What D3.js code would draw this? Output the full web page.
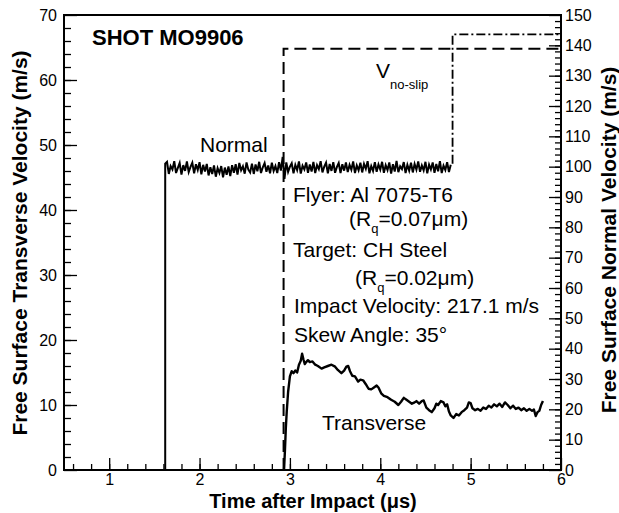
<!DOCTYPE html>
<html>
<head>
<meta charset="utf-8">
<title>Shot MO9906</title>
<style>
  body { margin: 0; background: #fff; }
  svg text { font-family: "Liberation Sans", Arial, Helvetica, sans-serif; fill: #000; }
  .tick text { font-size: 16px; }
  .tick line { stroke: #000; stroke-width: 1.3; }
</style>
</head>
<body>
<div id="chart"></div>
<script src="https://d3js.org/d3.v7.min.js"></script>
<script>
// tick labels
const xTicks = [1, 2, 3, 4, 5, 6];
const leftTicks = [0, 10, 20, 30, 40, 50, 60, 70];
const rightTicks = [0, 10, 20, 30, 40, 50, 60, 70, 80, 90, 100, 110, 120, 130, 140, 150];

// normal free surface velocity (right axis, m/s), sampled every 0.02 us from 1.64 us
const normalRise = [[1.62, 0], [1.62, 101.0], [1.64, 101.6]];
const normalStart = 1.64, normalStep = 0.02;
const normalValues = [
  101.6, 97.6, 100.2, 99.1, 101.8, 97.9, 99.6, 101.2, 97.4, 100.5, 98.6, 101.7, 98.2, 99.9, 101.3, 97.8, 100.8, 98.9, 101.5, 97.5,
  100.6, 98.4, 100.9, 97.1, 99.8, 97.6, 100.4, 96.7, 99.5, 97.9, 100.2, 96.5, 99.7, 97.3, 100.1, 96.9, 100.5, 98.0, 100.8, 97.4,
  101.2, 98.8, 100.1, 97.7, 101.4, 99.0, 98.1, 101.0, 97.6, 100.7, 98.5, 101.6, 97.9, 99.8, 101.2, 98.3, 100.4, 97.8, 101.3, 98.6,
  100.2, 97.9, 101.5, 98.7, 103.2, 96.0, 101.4, 98.3, 100.0, 101.1, 97.8, 100.6, 98.9, 101.7, 97.7, 100.3, 99.1, 101.4, 98.0, 100.7,
  98.4, 101.6, 97.9, 100.5, 99.2, 101.8, 98.1, 100.0, 101.3, 97.8, 100.9, 98.6, 101.5, 98.0, 99.9, 101.2, 97.9, 100.8, 98.7, 101.4,
  98.2, 100.6, 99.0, 101.7, 97.9, 100.4, 98.8, 101.3, 98.1, 100.9, 99.3, 101.8, 97.8, 100.2, 98.6, 101.5, 98.3, 100.7, 99.0, 101.6,
  98.0, 100.5, 98.9, 101.4, 97.7, 100.8, 98.4, 101.9, 98.2, 100.1, 99.2, 101.5, 97.9, 100.6, 98.7, 101.3, 98.1, 100.9, 99.0, 101.7,
  98.3, 100.4, 98.8, 101.6, 97.8, 100.7, 99.1, 101.4, 98.0, 100.9, 98.5, 101.8, 97.9, 100.3, 98.9, 101.5, 98.2, 100.6
];

// transverse free surface velocity (left axis, m/s)
const transT = [2.935, 2.945, 2.955, 2.965, 2.98, 3.0, 3.02, 3.04, 3.06, 3.08, 3.10, 3.12, 3.135, 3.15, 3.165, 3.18, 3.20, 3.22, 3.25, 3.28,
  3.31, 3.35, 3.38, 3.42, 3.46, 3.50, 3.53, 3.57, 3.60, 3.625, 3.645, 3.665, 3.69, 3.72, 3.755, 3.78, 3.81, 3.84, 3.87, 3.90,
  3.93, 3.96, 3.98, 4.01, 4.04, 4.08, 4.12, 4.16, 4.20, 4.23, 4.26, 4.29, 4.32, 4.35, 4.38, 4.40, 4.43, 4.46, 4.48, 4.51,
  4.54, 4.57, 4.60, 4.62, 4.64, 4.67, 4.70, 4.72, 4.74, 4.76, 4.78, 4.81, 4.84, 4.87, 4.90, 4.93, 4.96, 4.98, 5.00, 5.02,
  5.05, 5.08, 5.11, 5.14, 5.17, 5.20, 5.23, 5.26, 5.29, 5.32, 5.35, 5.38, 5.41, 5.44, 5.47, 5.50, 5.53, 5.56, 5.59, 5.62,
  5.65, 5.68, 5.70, 5.72, 5.74, 5.76, 5.78, 5.80];
const transV = [0, 3, 6.5, 9, 12, 14.4, 15.2, 14.9, 15.3, 15.0, 16.2, 16.8, 17.9, 17.0, 16.3, 16.6, 16.9, 16.6, 16.7, 16.2,
  16.0, 15.6, 15.8, 16.0, 16.2, 15.9, 15.4, 14.9, 15.3, 15.9, 16.0, 15.2, 14.5, 14.4, 13.6, 13.9, 13.8, 13.2, 12.5, 12.4,
  12.7, 13.0, 12.7, 11.8, 11.4, 11.2, 10.8, 10.5, 10.0, 10.5, 11.1, 10.8, 10.5, 10.2, 10.4, 10.6, 10.2, 10.6, 10.7, 9.6,
  9.2, 8.9, 9.5, 10.2, 10.0, 10.6, 10.4, 9.8, 10.1, 9.0, 8.4, 8.0, 8.6, 8.4, 8.9, 9.2, 9.6, 10.4, 10.3, 9.5,
  9.2, 9.4, 9.1, 9.6, 9.4, 9.9, 9.6, 10.1, 9.8, 10.2, 9.7, 10.4, 10.0, 9.5, 9.9, 9.4, 9.6, 9.2, 9.5, 9.1,
  9.4, 9.1, 9.3, 8.3, 8.9, 9.1, 10.0, 10.6];

// no-slip transverse velocity (left axis) and jump in normal (right axis)
const noSlip = [[2.93, 0], [2.93, 64.8], [6, 64.8]];
const normalJump = [[4.8, 101], [4.8, 143.6], [6, 143.6]];

const width = 619, height = 513;
const plotL = 64, plotR = 561, plotT = 15, plotB = 470;

const svg = d3.select("#chart").append("svg")
  .attr("width", width).attr("height", height);

const x = d3.scaleLinear().domain([0.5, 6]).range([plotL, plotR]);
const yL = d3.scaleLinear().domain([0, 70]).range([plotB, plotT]);
const yR = d3.scaleLinear().domain([0, 150]).range([plotB, plotT]);

// minor ticks
svg.append("g").attr("transform", `translate(0,${plotB})`)
  .call(d3.axisBottom(x).tickValues(d3.range(0.6, 6, 0.2)).tickSize(-6).tickFormat(""))
  .call(g => g.select(".domain").remove());
svg.append("g").attr("transform", `translate(${plotL},0)`)
  .call(d3.axisLeft(yL).tickValues(d3.range(2, 70, 2)).tickSize(-7).tickFormat(""))
  .call(g => g.select(".domain").remove());
svg.append("g").attr("transform", `translate(${plotR},0)`)
  .call(d3.axisRight(yR).tickValues(d3.range(2, 150, 2)).tickSize(-6).tickFormat(""))
  .call(g => g.select(".domain").remove());

// major ticks
svg.append("g").attr("transform", `translate(0,${plotB})`)
  .call(d3.axisBottom(x).tickValues(xTicks).tickSize(-12).tickPadding(4).tickFormat(d3.format("d")))
  .call(g => g.select(".domain").remove());
svg.append("g").attr("transform", `translate(${plotL},0)`)
  .call(d3.axisLeft(yL).tickValues(leftTicks).tickSize(-13).tickPadding(7).tickFormat(d3.format("d")))
  .call(g => g.select(".domain").remove());
svg.append("g").attr("transform", `translate(${plotR},0)`)
  .call(d3.axisRight(yR).tickValues(rightTicks).tickSize(-12).tickPadding(4).tickFormat(d3.format("d")))
  .call(g => g.select(".domain").remove());

// frame
svg.append("rect")
  .attr("x", plotL).attr("y", plotT)
  .attr("width", plotR - plotL).attr("height", plotB - plotT)
  .attr("fill", "none").attr("stroke", "#000").attr("stroke-width", 2);

const lineR = d3.line().x(d => x(d[0])).y(d => yR(d[1]));
const lineL = d3.line().x(d => x(d[0])).y(d => yL(d[1]));

// normal trace
const normalPts = normalRise.concat(normalValues.map((v, i) => [normalStart + i * normalStep, v]));
svg.append("path").datum(normalPts)
  .attr("d", lineR).attr("fill", "none").attr("stroke", "#000").attr("stroke-width", 2);

// normal jump (dash-dot)
svg.append("path").datum(normalJump)
  .attr("d", lineR).attr("fill", "none").attr("stroke", "#000")
  .attr("stroke-width", 1.8).attr("stroke-dasharray", "9,3,2,3");

// no-slip (dashed)
svg.append("path").datum(noSlip)
  .attr("d", lineL).attr("fill", "none").attr("stroke", "#000")
  .attr("stroke-width", 2).attr("stroke-dasharray", "12,6");

// transverse trace
svg.append("path").datum(transT.map((t, i) => [t, transV[i]]))
  .attr("d", lineL).attr("fill", "none").attr("stroke", "#000")
  .attr("stroke-width", 2.4).attr("stroke-linejoin", "round");

// labels
svg.append("text").attr("x", 92).attr("y", 45)
  .attr("font-size", 22).attr("font-weight", "bold").text("SHOT MO9906");

svg.append("text").attr("x", 200).attr("y", 152).attr("font-size", 21).text("Normal");
svg.append("text").attr("x", 322).attr("y", 430).attr("font-size", 21).text("Transverse");

const vns = svg.append("text").attr("x", 376).attr("y", 78).attr("font-size", 21);
vns.append("tspan").text("V");
vns.append("tspan").attr("dy", 11).attr("font-size", 13).text("no-slip");

svg.append("text").attr("x", 293).attr("y", 202).attr("font-size", 21).text("Flyer: Al 7075-T6");
const rq1 = svg.append("text").attr("x", 349).attr("y", 226).attr("font-size", 21);
rq1.append("tspan").text("(R");
rq1.append("tspan").attr("dy", 7).attr("font-size", 13).text("q");
rq1.append("tspan").attr("dy", -7).text("=0.07μm)");
svg.append("text").attr("x", 293).attr("y", 257).attr("font-size", 21).text("Target: CH Steel");
const rq2 = svg.append("text").attr("x", 355).attr("y", 285).attr("font-size", 21);
rq2.append("tspan").text("(R");
rq2.append("tspan").attr("dy", 7).attr("font-size", 13).text("q");
rq2.append("tspan").attr("dy", -7).text("=0.02μm)");
svg.append("text").attr("x", 294).attr("y", 313).attr("font-size", 21).text("Impact Velocity: 217.1 m/s");
svg.append("text").attr("x", 294).attr("y", 342).attr("font-size", 21).text("Skew Angle: 35°");

// axis titles
svg.append("text").attr("x", 313).attr("y", 508)
  .attr("text-anchor", "middle").attr("font-size", 20).attr("font-weight", "bold")
  .text("Time after Impact (μs)");
svg.append("text").attr("transform", "translate(27,243) rotate(-90)")
  .attr("text-anchor", "middle").attr("font-size", 21).attr("font-weight", "bold")
  .text("Free Surface Transverse Velocity (m/s)");
svg.append("text").attr("transform", "translate(616,240) rotate(-90)")
  .attr("text-anchor", "middle").attr("font-size", 21).attr("font-weight", "bold")
  .text("Free Surface Normal Velocity (m/s)");
</script>
</body>
</html>
